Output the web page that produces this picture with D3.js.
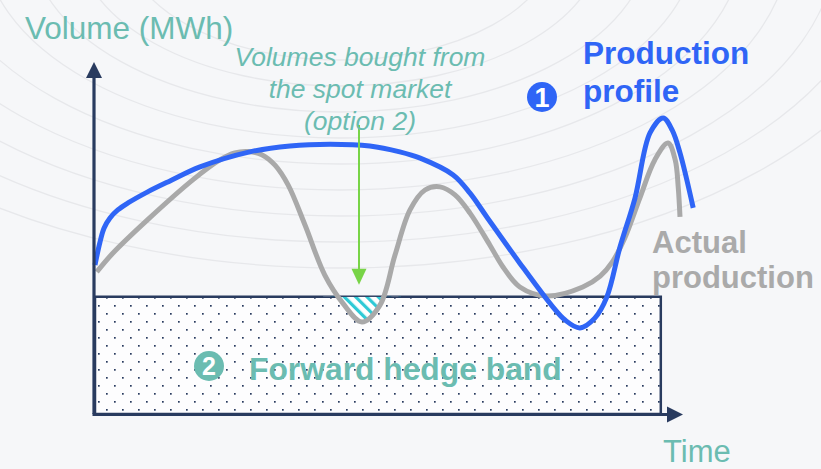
<!DOCTYPE html>
<html>
<head>
<meta charset="utf-8">
<script src="https://cdn.jsdelivr.net/npm/d3@7"></script>
<style>
  html, body { margin: 0; padding: 0; background: #f6f7f9; }
  svg { display: block; font-family: "Liberation Sans", Arial, Helvetica, sans-serif; }
</style>
</head>
<body>
<svg id="chart" width="821" height="469"></svg>
<script>
// Production profile (planned volumes over time)
const profileTime   = [0, 0.8, 1.5, 2.5, 3.8, 5.5, 8.7, 12.5, 17.5, 25.8, 32.5, 39.2, 45.8, 50.8, 54.2, 59.7, 62.5, 65.3, 70.8, 76.3, 78.3, 80.8, 83.3, 85.3, 87.5, 90, 92.5, 94.7, 96.2, 97.5, 99.7];
const profileVolume = [42.6, 48.9, 53.1, 56, 58.3, 60.3, 63.4, 66.6, 70.6, 74.9, 76.6, 77.1, 76.6, 74.9, 73.1, 68.3, 63.1, 56.3, 43.1, 30.6, 26.9, 24.6, 27.4, 33.4, 47.7, 61.7, 80.3, 84.6, 81.1, 74.6, 58.9];

// Actual production
const actualTime   = [0.3, 3, 8.7, 16.3, 20.8, 23.3, 25.5, 27.8, 30, 32.2, 35, 38.3, 41.3, 44.5, 47.5, 50, 52.5, 55, 57.5, 60, 62.5, 65.8, 68, 70.8, 75.3, 81.3, 84.2, 86.2, 88.3, 90.8, 93.3, 95.5, 96.7, 97.2, 97.5];
const actualVolume = [40.6, 46, 55.4, 66.9, 72.6, 74.6, 75, 74.1, 71.1, 65.4, 54, 39.7, 31.7, 26.3, 31.1, 45.4, 58.3, 64, 64.9, 62.6, 57.4, 48.3, 42, 36.3, 33.7, 36.3, 39.4, 43.4, 50.3, 61.7, 72.6, 77.4, 72.6, 64.9, 56.3];

// Forward hedge band: constant hedged volume over the delivery period
const hedgeVolume = 33.5;
const hedgePeriod = [0, 94.3];

// Shortfall bought on the spot market
const shortfallSpan = [38, 51];
const spotArrowTime = 44;
const spotArrowVolume = [82.6, 36.9];

// Axis extents
const timeAxisMax = 98;
const volumeAxisMax = 100.6;

// Texts
const yAxisTitle = "Volume (MWh)";
const xAxisTitle = "Time";
const spotLabel = ["Volumes bought from", "the spot market", "(option 2)"];
const profileLabel = ["Production", "profile"];
const actualLabel = ["Actual", "production"];
const hedgeLabel = "Forward hedge band";

const colors = {
  navy: "#293b5f",
  blue: "#2f65f6",
  gray: "#a9a9a9",
  teal: "#6bbcb1",
  green: "#78d447",
  cyan: "#2fcad6",
  bg: "#f6f7f9"
};

const svg = d3.select("#chart");
const W = 821, H = 469;

const x = d3.scaleLinear().domain([0, 100]).range([95, 695]);
const y = d3.scaleLinear().domain([0, 100]).range([414, 64]);

const defs = svg.append("defs");

// dotted fill for the hedge band
const dots = defs.append("pattern")
  .attr("id", "dots").attr("patternUnits", "userSpaceOnUse")
  .attr("x", 98).attr("y", 305).attr("width", 16).attr("height", 16);
dots.append("rect").attr("width", 16).attr("height", 16).attr("fill", "#fdfdfe");
dots.append("rect").attr("x", 0).attr("y", 0).attr("width", 1.7).attr("height", 1.7).attr("fill", colors.navy);
dots.append("rect").attr("x", 8).attr("y", 8).attr("width", 1.7).attr("height", 1.7).attr("fill", colors.navy);

// diagonal hatch for spot purchases
const hatch = defs.append("pattern")
  .attr("id", "hatch").attr("patternUnits", "userSpaceOnUse")
  .attr("width", 8).attr("height", 8)
  .attr("patternTransform", "rotate(-45)");
hatch.append("rect").attr("width", 8).attr("height", 8).attr("fill", "#ffffff");
hatch.append("rect").attr("x", 0).attr("width", 3.2).attr("height", 8).attr("fill", colors.cyan);

// clip: inside the hedge band, over the shortfall span only
defs.append("clipPath").attr("id", "shortfallClip")
  .append("rect")
  .attr("x", x(shortfallSpan[0])).attr("y", y(hedgeVolume))
  .attr("width", x(shortfallSpan[1]) - x(shortfallSpan[0]))
  .attr("height", y(0) - y(hedgeVolume));

// background
svg.append("rect").attr("width", W).attr("height", H).attr("fill", colors.bg);

// faint decorative arcs
const arcs = svg.append("g").attr("fill", "none").attr("stroke", "#e7e8eb").attr("stroke-width", 1.3);
d3.range(9).forEach(i => {
  const ry = 120 + i * 26;
  arcs.append("ellipse")
    .attr("cx", 340).attr("cy", -60)
    .attr("rx", ry * 1.8).attr("ry", ry);
});

// hedge band
svg.append("rect")
  .attr("x", x(hedgePeriod[0])).attr("y", y(hedgeVolume))
  .attr("width", x(hedgePeriod[1]) - x(hedgePeriod[0]))
  .attr("height", y(0) - y(hedgeVolume))
  .attr("fill", "url(#dots)")
  .attr("stroke", colors.navy).attr("stroke-width", 2.5);

// shortfall area between the actual curve and the hedge level
const curve = d3.curveCatmullRom.alpha(0.5);
const actualPts = actualTime.map((t, i) => [t, actualVolume[i]]);
const profilePts = profileTime.map((t, i) => [t, profileVolume[i]]);

svg.append("path")
  .datum(actualPts)
  .attr("clip-path", "url(#shortfallClip)")
  .attr("fill", "url(#hatch)")
  .attr("d", d3.area().curve(curve)
    .x(d => x(d[0])).y0(y(hedgeVolume)).y1(d => y(d[1])));

// hedge band label
const hedgeG = svg.append("g");
hedgeG.append("circle").attr("cx", 209).attr("cy", 366).attr("r", 15).attr("fill", colors.teal);
hedgeG.append("text").attr("x", 209).attr("y", 375).attr("text-anchor", "middle")
  .attr("font-size", 25).attr("font-weight", "bold").attr("fill", "#ffffff").text("2");
hedgeG.append("text").attr("x", 249).attr("y", 380)
  .attr("font-size", 31.8).attr("font-weight", "bold").attr("fill", colors.teal).text(hedgeLabel);

// curves
const line = d3.line().curve(curve).x(d => x(d[0])).y(d => y(d[1]));
svg.append("path").datum(actualPts)
  .attr("fill", "none").attr("stroke", colors.gray).attr("stroke-width", 5)
  .attr("d", line);
svg.append("path").datum(profilePts)
  .attr("fill", "none").attr("stroke", colors.blue).attr("stroke-width", 5)
  .attr("d", line);

// axes with arrow heads
const axes = svg.append("g").attr("fill", colors.navy).attr("stroke", colors.navy);
axes.append("line")
  .attr("x1", x(0) - 1).attr("y1", y(0)).attr("x2", x(0) - 1).attr("y2", y(volumeAxisMax) + 12)
  .attr("stroke-width", 3.2);
axes.append("path")
  .attr("stroke", "none")
  .attr("d", `M${x(0) - 1},${y(volumeAxisMax)} l-8,16 l16,0 z`);
axes.append("line")
  .attr("x1", x(0) - 2.5).attr("y1", y(0) + 0.5).attr("x2", x(timeAxisMax) - 12).attr("y2", y(0) + 0.5)
  .attr("stroke-width", 3.2);
axes.append("path")
  .attr("stroke", "none")
  .attr("d", `M${x(timeAxisMax)},${y(0) + 0.5} l-16,-8 l0,16 z`);

// axis titles
svg.append("text").attr("x", 25).attr("y", 39)
  .attr("font-size", 31.5).attr("fill", colors.teal).text(yAxisTitle);
svg.append("text").attr("x", 663).attr("y", 462)
  .attr("font-size", 31).attr("fill", colors.teal).text(xAxisTitle);

// spot market annotation
const spot = svg.append("g");
spot.append("line")
  .attr("x1", x(spotArrowTime)).attr("y1", y(spotArrowVolume[0]))
  .attr("x2", x(spotArrowTime)).attr("y2", y(spotArrowVolume[1]) - 12)
  .attr("stroke", colors.green).attr("stroke-width", 2);
spot.append("path")
  .attr("fill", colors.green)
  .attr("d", `M${x(spotArrowTime)},${y(spotArrowVolume[1])} l-7.5,-16 l15,0 z`);
spot.selectAll("text.spot").data(spotLabel).join("text")
  .attr("class", "spot")
  .attr("x", 360).attr("y", (d, i) => 66 + i * 32)
  .attr("text-anchor", "middle").attr("font-size", 26.5).attr("font-style", "italic")
  .attr("fill", colors.teal).text(d => d);

// production profile label
const prof = svg.append("g");
prof.append("circle").attr("cx", 542).attr("cy", 97).attr("r", 15).attr("fill", colors.blue);
prof.append("text").attr("x", 542).attr("y", 106.5).attr("text-anchor", "middle")
  .attr("font-size", 27).attr("font-weight", "bold").attr("fill", "#ffffff").text("1");
prof.selectAll("text.lbl").data(profileLabel).join("text")
  .attr("class", "lbl")
  .attr("x", 583).attr("y", (d, i) => 64 + i * 38)
  .attr("font-size", 31.5).attr("font-weight", "bold").attr("fill", colors.blue).text(d => d);

// actual production label
svg.selectAll("text.act").data(actualLabel).join("text")
  .attr("class", "act")
  .attr("x", 652).attr("y", (d, i) => 253 + i * 35)
  .attr("font-size", 31).attr("font-weight", "bold").attr("fill", "#aaaaaa").text(d => d);
</script>
</body>
</html>
